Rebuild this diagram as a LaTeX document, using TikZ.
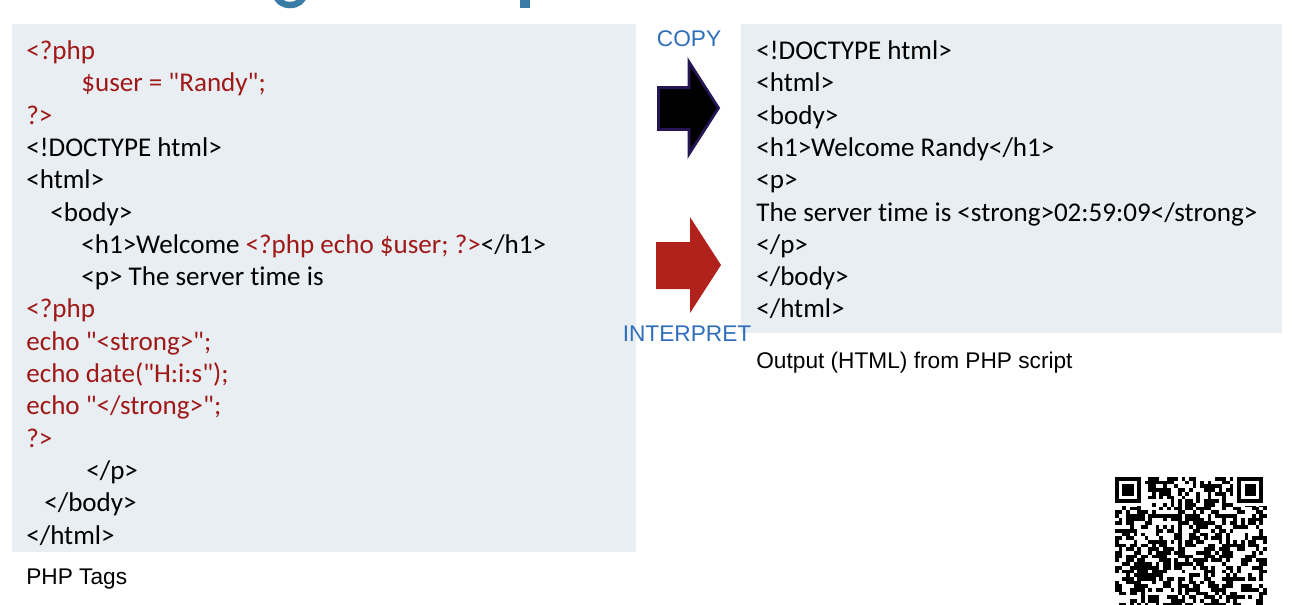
\documentclass[tikz,border=0pt]{standalone}
\usepackage{fontspec}
\usepackage{tikz}
\newfontfamily\codefont[Ligatures=NoCommon]{Carlito}
\newfontfamily\labelfont{Liberation Sans}
\definecolor{panelgray}{RGB}{232,238,242}
\definecolor{phpred}{RGB}{160,25,25}
\definecolor{labelblue}{RGB}{47,110,186}
\definecolor{arrowred}{RGB}{178,34,28}
\definecolor{arrowedge}{RGB}{38,22,84}
\definecolor{titleblue}{RGB}{58,124,165}

\begin{document}
\begin{tikzpicture}[code/.style={anchor=base west, inner sep=0pt, font=\codefont\fontsize{15.4}{18}\selectfont},
	phpcode/.style={code, text=phpred},
	lbl/.style={inner sep=0pt, font=\labelfont\fontsize{12.9}{15}\selectfont},
	panel/.style={fill=panelgray, draw=none}]
	\useasboundingbox (0,0) rectangle (25.92,12.08);
	\clip (0,0) rectangle (25.92,12.08);
	\fill[titleblue] (10.40,11.92) rectangle (10.60,12.3);
	\draw[titleblue, line width=0.13cm] (5.53,12.18) arc[start angle=180, end angle=360, x radius=0.27, y radius=0.2];
	\fill[panel] (.24,1.04) rectangle (12.72,11.6);
	\fill[panel] (14.82,5.42) rectangle (25.64,11.6);
	\node[phpcode] (phpopen) at (.52,10.89) {<?php};
	\node[phpcode] (user) at (1.62,10.244) {\$user = "Randy";};
	\node[phpcode] (phpclose) at (.52,9.598) {?>};
	\node[code] (doctype) at (.52,8.952) {<!DOCTYPE html>};
	\node[code] (html) at (.52,8.306) {<html>};
	\node[code] (body) at (1.00,7.66) {<body>};
	\node[code] (heading) at (1.62,7.014) {<h1>Welcome \textcolor{phpred}{<?php echo \$user; ?>}</h1>};
	\node[code] (para) at (1.62,6.368) {<p> The server time is};
	\node[phpcode] (phpopen2) at (.52,5.722) {<?php};
	\node[phpcode] (echoa) at (.52,5.076) {echo "<strong>";};
	\node[phpcode] (echob) at (.52,4.43) {echo date("H:i:s");};
	\node[phpcode] (echoc) at (.52,3.784) {echo "</strong>";};
	\node[phpcode] (phpclose2) at (.52,3.138) {?>};
	\node[code] (paraend) at (1.72,2.492) {</p>};
	\node[code] (bodyend) at (.88,1.846) {</body>};
	\node[code] (htmlend) at (.52,1.20) {</html>};
	\node[lbl, anchor=base west] (phptags) at (.52,.40) {PHP Tags};
	\node[code] (outdoctype) at (15.12,10.89) {<!DOCTYPE html>};
	\node[code] (outhtml) at (15.12,10.244) {<html>};
	\node[code] (outbody) at (15.12,9.598) {<body>};
	\node[code] (outheading) at (15.12,8.952) {<h1>Welcome Randy</h1>};
	\node[code] (outpara) at (15.12,8.306) {<p>};
	\node[code] (outtime) at (15.12,7.66) {The server time is <strong>02:59:09</strong>};
	\node[code] (outparaend) at (15.12,7.014) {</p>};
	\node[code] (outbodyend) at (15.12,6.368) {</body>};
	\node[code] (outhtmlend) at (15.12,5.722) {</html>};
	\node[lbl, anchor=base west] (output) at (15.12,4.72) {Output (HTML) from PHP script};
	\node[lbl, anchor=base, text=labelblue] (copy) at (13.78,11.16) {COPY};
	\node[lbl, anchor=base, text=labelblue] (interpret) at (13.74,5.26) {INTERPRET};
	\filldraw[draw=arrowedge, fill=black, line width=1.6pt] (13.17,10.33) -- (13.78,10.33) -- (13.78,10.84) -- (14.37,9.92) -- (13.78,9.00) -- (13.78,9.49) -- (13.17,9.49) -- cycle;
	\fill[arrowred] (13.12,7.24) -- (13.80,7.24) -- (13.80,7.74) -- (14.42,6.78) -- (13.80,5.82) -- (13.80,6.30) -- (13.12,6.30) -- cycle;
	\pgfmathsetseed{4711}
	\foreach \r in {0,...,34}{
		\foreach \c in {0,...,40}{
			\pgfmathrandominteger{\bit}{0}{1}
			\ifnum\bit=1 \fill (22.30+\c*0.074,2.54-\r*0.074) rectangle ++(0.075,-0.075);\fi
		}
	}
	\foreach \fx in {22.30,24.742}{
		\fill[white] (\fx-0.074,2.62) rectangle ++(0.666,-0.666);
		\fill (\fx,2.54) rectangle ++(0.518,-0.518);
		\fill[white] (\fx+0.074,2.466) rectangle ++(0.37,-0.37);
		\fill (\fx+0.148,2.392) rectangle ++(0.222,-0.222);
	}
\end{tikzpicture}
\end{document}
